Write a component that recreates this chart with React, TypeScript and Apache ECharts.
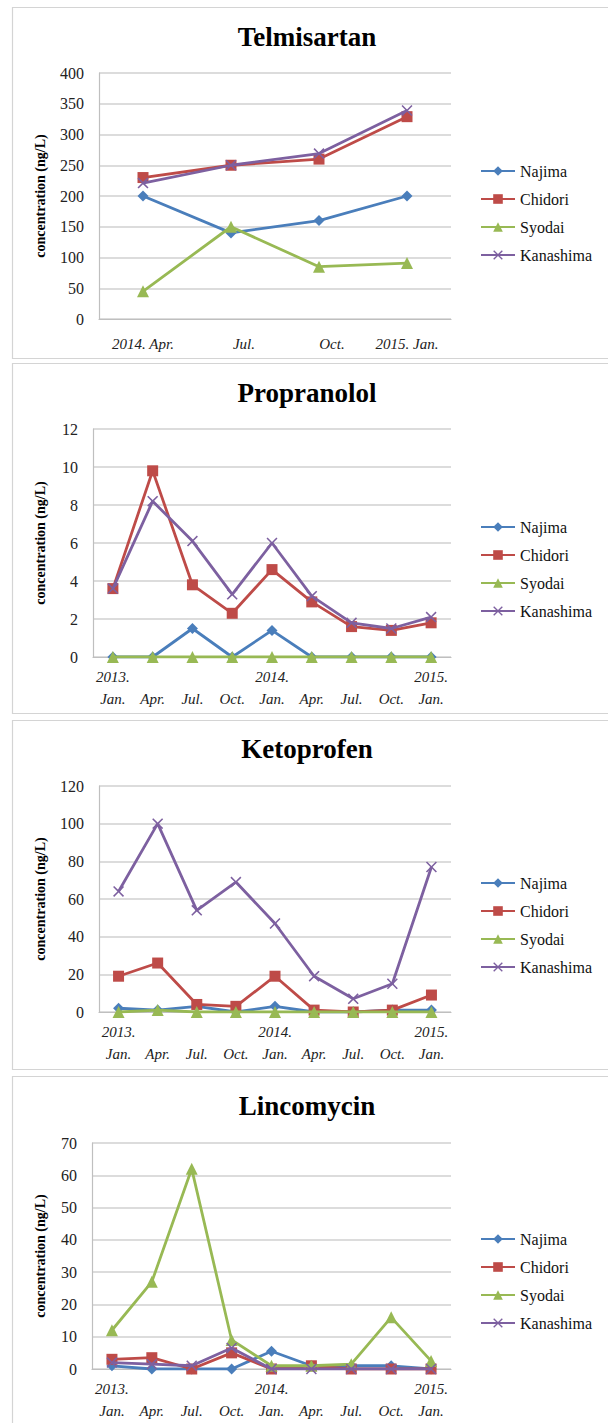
import React, { useEffect, useRef } from 'react';
import * as echarts from 'echarts';

// ---------- data ----------
const siteNames = ['Najima', 'Chidori', 'Syodai', 'Kanashima'];
const siteColors = ['#4A7EBB', '#BE4B48', '#98B954', '#7D60A0'];

const telmisartanCategories = ['2014. Apr.', 'Jul.', 'Oct.', '2015. Jan.'];
const telmisartanNajima = [200, 140, 160, 200];
const telmisartanChidori = [230, 250, 260, 329];
const telmisartanSyodai = [45, 150, 85, 91];
const telmisartanKanashima = [221, 250, 269, 339];

const quarterCategories = [
  '2013.\nJan.', '\nApr.', '\nJul.', '\nOct.',
  '2014.\nJan.', '\nApr.', '\nJul.', '\nOct.', '2015.\nJan.',
];

const propranololNajima = [0, 0, 1.5, 0, 1.4, 0, 0, 0, 0];
const propranololChidori = [3.6, 9.8, 3.8, 2.3, 4.6, 2.9, 1.6, 1.4, 1.8];
const propranololSyodai = [0, 0, 0, 0, 0, 0, 0, 0, 0];
const propranololKanashima = [3.6, 8.2, 6.1, 3.3, 6.0, 3.2, 1.8, 1.5, 2.1];

const ketoprofenNajima = [2, 1, 3, 0, 3, 0, 0, 1, 1];
const ketoprofenChidori = [19, 26, 4, 3, 19, 1, 0, 1, 9];
const ketoprofenSyodai = [0, 1, 0, 0, 0, 0, 0, 0, 0];
const ketoprofenKanashima = [64, 100, 54, 69, 47, 19, 7, 15, 77];

const lincomycinNajima = [1, 0, 0, 0, 5.5, 1, 1, 1, 0];
const lincomycinChidori = [3, 3.5, 0, 5, 0, 1, 0, 0, 0];
const lincomycinSyodai = [12, 27, 62, 9, 1, 1, 1.5, 16, 2.5];
const lincomycinKanashima = [2, 1.5, 1, 6.5, 0, 0, 0, 0, 0];

const yTicks = [
  { max: 400, interval: 50 },
  { max: 12, interval: 2 },
  { max: 120, interval: 20 },
  { max: 70, interval: 10 },
];

const panels = [
  { title: 'Telmisartan', categories: telmisartanCategories,
    values: [telmisartanNajima, telmisartanChidori, telmisartanSyodai, telmisartanKanashima] },
  { title: 'Propranolol', categories: quarterCategories,
    values: [propranololNajima, propranololChidori, propranololSyodai, propranololKanashima] },
  { title: 'Ketoprofen', categories: quarterCategories,
    values: [ketoprofenNajima, ketoprofenChidori, ketoprofenSyodai, ketoprofenKanashima] },
  { title: 'Lincomycin', categories: quarterCategories,
    values: [lincomycinNajima, lincomycinChidori, lincomycinSyodai, lincomycinKanashima] },
];

// ---------- layout ----------
const layout = [
  { frameTop: 7.5, frameBottom: 358.5, titleY: 37, gridLeft: 99, gridTop: 73, gridBottom: 319, legendTop: 157, nameGap: 52 },
  { frameTop: 363.5, frameBottom: 713.5, titleY: 393, gridLeft: 93, gridTop: 429, gridBottom: 657, legendTop: 513, nameGap: 46 },
  { frameTop: 720.5, frameBottom: 1069.5, titleY: 749, gridLeft: 99, gridTop: 786, gridBottom: 1012, legendTop: 869, nameGap: 52 },
  { frameTop: 1076.5, frameBottom: 1440, titleY: 1106, gridLeft: 92, gridTop: 1143, gridBottom: 1369, legendTop: 1225, nameGap: 45 },
];

const SERIF = 'Liberation Serif, Times New Roman, Times, serif';
const XMARK = 'path://M0,1L1,0L5,4L9,0L10,1L6,5L10,9L9,10L5,6L1,10L0,9L4,5Z';
const symbols = ['diamond', 'rect', 'triangle', XMARK];
const symbolSizes = [11, 11, 12, 11];

export default function App() {
  const ref = useRef<HTMLDivElement>(null);

  useEffect(() => {
    if (!ref.current) return;
    const chart = echarts.init(ref.current, null, { renderer: 'svg' });

    const grid: any[] = [];
    const xAxis: any[] = [];
    const yAxis: any[] = [];
    const series: any[] = [];
    const legend: any[] = [];
    const graphic: any[] = [];

    panels.forEach((p, i) => {
      const L = layout[i];
      graphic.push({
        type: 'rect', silent: true, z: -10,
        shape: { x: 12.5, y: L.frameTop, width: 700, height: L.frameBottom - L.frameTop },
        style: { fill: 'none', stroke: '#D4D4D4', lineWidth: 1.2 },
      });
      graphic.push({
        type: 'text', x: 307, y: L.titleY,
        style: {
          text: p.title, fill: '#000', textAlign: 'center', textVerticalAlign: 'middle',
          fontFamily: SERIF, fontWeight: 'bold', fontSize: 27,
        },
      });
      grid.push({
        left: L.gridLeft, top: L.gridTop, width: 451 - L.gridLeft,
        height: L.gridBottom - L.gridTop, containLabel: false,
      });
      xAxis.push({
        type: 'category', gridIndex: i, data: p.categories, boundaryGap: true,
        axisLine: { show: true, lineStyle: { color: '#BFBFBF', width: 1.2 } },
        axisTick: { show: false },
        axisLabel: {
          interval: 0, margin: i === 0 ? 14 : 9, color: '#222',
          fontFamily: SERIF, fontStyle: 'italic', fontSize: 15, lineHeight: 22,
          formatter: i === 0
            ? (v: string) => (v.length < 6 ? `{s|${v}}` : v)
            : undefined,
          rich: i === 0 ? { s: { padding: [0, 0, 0, 26], fontFamily: SERIF, fontStyle: 'italic', fontSize: 15, color: '#222' } } : undefined,
        },
        splitLine: { show: false },
      });
      yAxis.push({
        type: 'value', gridIndex: i, min: 0, max: yTicks[i].max, interval: yTicks[i].interval,
        name: 'concentration (ng/L)', nameLocation: 'middle', nameGap: L.nameGap,
        nameTextStyle: { fontFamily: SERIF, fontWeight: 'bold', fontSize: 14, color: '#000' },
        axisLine: { show: true, lineStyle: { color: '#BFBFBF', width: 1.2 } },
        axisTick: { show: false },
        axisLabel: { margin: 15, color: '#222', fontFamily: SERIF, fontSize: 16 },
        splitLine: { show: true, lineStyle: { color: '#D0D0D0', width: 1.5 } },
      });
      p.values.forEach((vals, k) => {
        series.push({
          type: 'line', name: siteNames[k], xAxisIndex: i, yAxisIndex: i,
          data: vals, symbol: symbols[k], symbolSize: symbolSizes[k],
          showSymbol: true, color: siteColors[k],
          lineStyle: { color: siteColors[k], width: 2.8 },
          itemStyle: { color: siteColors[k] },
          z: 2 + k,
        });
      });
      legend.push({
        orient: 'vertical', left: 475, top: L.legendTop,
        data: siteNames, itemWidth: 34, itemHeight: 12, itemGap: 10,
        selectedMode: false,
        textStyle: { fontFamily: SERIF, fontSize: 16, lineHeight: 18, color: '#111' },
      });
    });

    chart.setOption({
      animation: false,
      backgroundColor: '#fff',
      grid, xAxis, yAxis, series, legend, graphic,
    });
    return () => chart.dispose();
  }, []);

  return (
    <div style={{ position: 'absolute', left: 0, top: 0, width: 608, height: 1423 }}>
      <div ref={ref} style={{ width: 608, height: 1423 }} />
    </div>
  );
}
